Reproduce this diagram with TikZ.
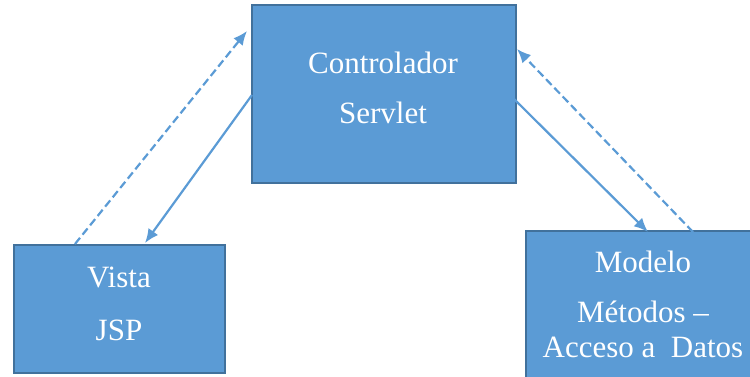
\documentclass[tikz,border=0pt]{standalone}
\usepackage{fontspec}
\setmainfont{Liberation Serif}
\usetikzlibrary{arrows.meta}
\definecolor{boxfill}{HTML}{5B9BD5}
\definecolor{boxline}{HTML}{41719C}
\definecolor{arrowc}{HTML}{5B9BD5}
\begin{document}
\begin{tikzpicture}[x=1pt,y=1pt,
  blk/.style={draw=boxline,fill=boxfill,line width=2.2pt,rectangle,inner sep=0pt,anchor=south west},
  txt/.style={text=white,font=\fontsize{31}{37}\selectfont,anchor=base,inner sep=0pt},
  conn/.style={draw=arrowc,line width=2.2pt,-{Latex[length=14pt,width=12pt]}},
  dconn/.style={conn,dash pattern=on 8pt off 4pt}]
\useasboundingbox (0,0) rectangle (750,376);
% boxes
\node[blk,minimum width=264pt,minimum height=178pt] (ctrl) at (251,192) {};
\node[blk,minimum width=211pt,minimum height=128pt] (vista) at (13,2) {};
\node[blk,minimum width=236pt,minimum height=150pt] (modelo) at (525,-6) {};
% texts
\node[txt] (t1) at (383,303) {Controlador};
\node[txt] (t2) at (383,253) {Servlet};
\node[txt] (t3) at (119,89) {Vista};
\node[txt] (t4) at (119,36) {JSP};
\node[txt] (t5) at (643,104) {Modelo};
\node[txt] (t6) at (643,54) {Métodos –};
\node[txt] (t7) at (643,19) {Acceso a\ \ Datos};
% connector ends
\coordinate (vd) at (75,132);
\coordinate (cd) at (247,345);
\coordinate (cs) at (252,281);
\coordinate (vs) at (145,133);
\coordinate (cs2) at (513,278);
\coordinate (ms) at (648,144);
\coordinate (md) at (693,144);
\coordinate (cd2) at (517,327);
\draw[dconn] (vd) -- (cd);
\draw[conn] (cs) -- (vs);
\draw[conn] (cs2) -- (ms);
\draw[dconn] (md) -- (cd2);
\end{tikzpicture}
\end{document}
